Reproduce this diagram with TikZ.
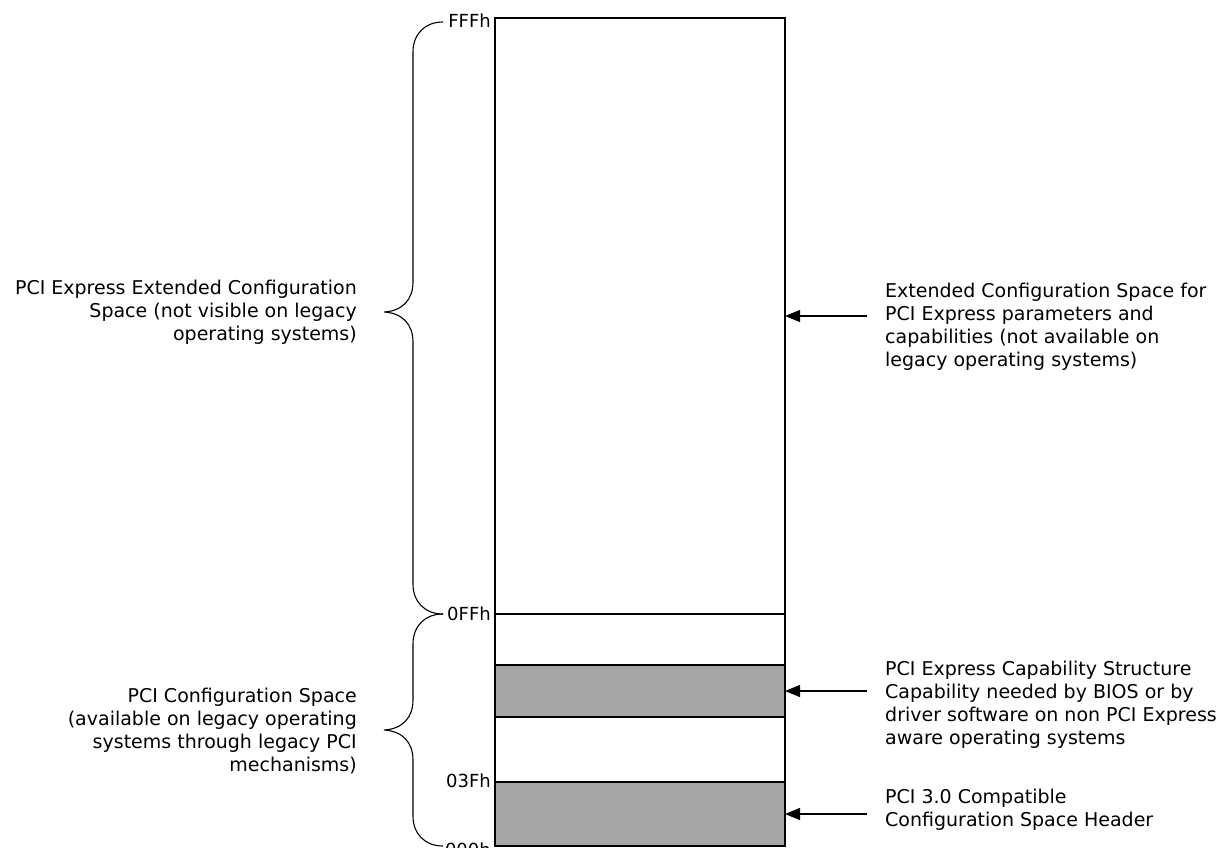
\documentclass[tikz,border=0pt]{standalone}
\usepackage{fontspec}
\setmainfont{DejaVu Sans}
\usetikzlibrary{arrows.meta}
\begin{document}
\begin{tikzpicture}[x=1pt,y=-1pt,
  region/.style={draw=black,line width=1.4pt,minimum width=290pt,inner sep=0pt,outer sep=0pt,anchor=north west},
  shaded/.style={region,fill=gray65},
  lbl/.style={font=\fontsize{19}{23}\selectfont,inner sep=0pt},
  addr/.style={font=\fontsize{18}{22}\selectfont,inner sep=0pt,anchor=east},
  brace/.style={line width=1.1pt},
  arr/.style={line width=1.1pt,-{Triangle[length=15pt,width=12pt]}}]
\definecolor{gray65}{HTML}{A6A6A6}
\useasboundingbox (0,0) rectangle (1228,848);
% memory regions
\node[region,minimum height=596pt] (ext) at (495,18) {};
\node[region,minimum height=51pt] (w1) at (495,614) {};
\node[shaded,minimum height=52pt] (g1) at (495,665) {};
\node[region,minimum height=65pt] (w2) at (495,717) {};
\node[shaded,minimum height=64pt] (g2) at (495,782) {};
% address labels
\node[addr] (fff) at (491,21) {FFFh};
\node[addr] (0ff) at (491,614) {0FFh};
\node[addr] (03f) at (491,781) {03Fh};
\node[addr] (000) at (491,850) {000h};
% braces
\draw[brace] (443,22) .. controls (425,22) and (413,34) .. (413,52) -- (413,282)
  .. controls (413,300) and (402,311) .. (384,312)
  .. controls (402,313) and (413,324) .. (413,342) -- (413,584)
  .. controls (413,602) and (425,614) .. (443,614);
\draw[brace] (443,614) .. controls (425,614) and (413,626) .. (413,644) -- (413,700)
  .. controls (413,718) and (402,729) .. (384,730)
  .. controls (402,731) and (413,742) .. (413,760) -- (413,816)
  .. controls (413,834) and (425,846) .. (443,846);
% left labels
\node[lbl,anchor=east,align=right] (lext) at (357,312) {PCI Express Extended Configuration\\Space (not visible on legacy\\operating systems)};
\node[lbl,anchor=east,align=right] (lpci) at (357,731) {PCI Configuration Space\\(available on legacy operating\\systems through legacy PCI\\mechanisms)};
% right labels
\node[lbl,anchor=west,align=left] (rext) at (885,327) {Extended Configuration Space for\\PCI Express parameters and\\capabilities (not available on\\legacy operating systems)};
\node[lbl,anchor=west,align=left] (rcap) at (885,705) {PCI Express Capability Structure\\Capability needed by BIOS or by\\driver software on non PCI Express\\aware operating systems};
\node[lbl,anchor=west,align=left] (rhdr) at (885,810) {PCI 3.0 Compatible\\Configuration Space Header};
% arrows
\coordinate (a1) at (867,316);
\coordinate (a2) at (867,691);
\coordinate (a3) at (867,814);
\draw[arr] (a1) -- (ext.east);
\draw[arr] (a2) -- (g1.east);
\draw[arr] (a3) -- (g2.east);
\end{tikzpicture}
\end{document}
